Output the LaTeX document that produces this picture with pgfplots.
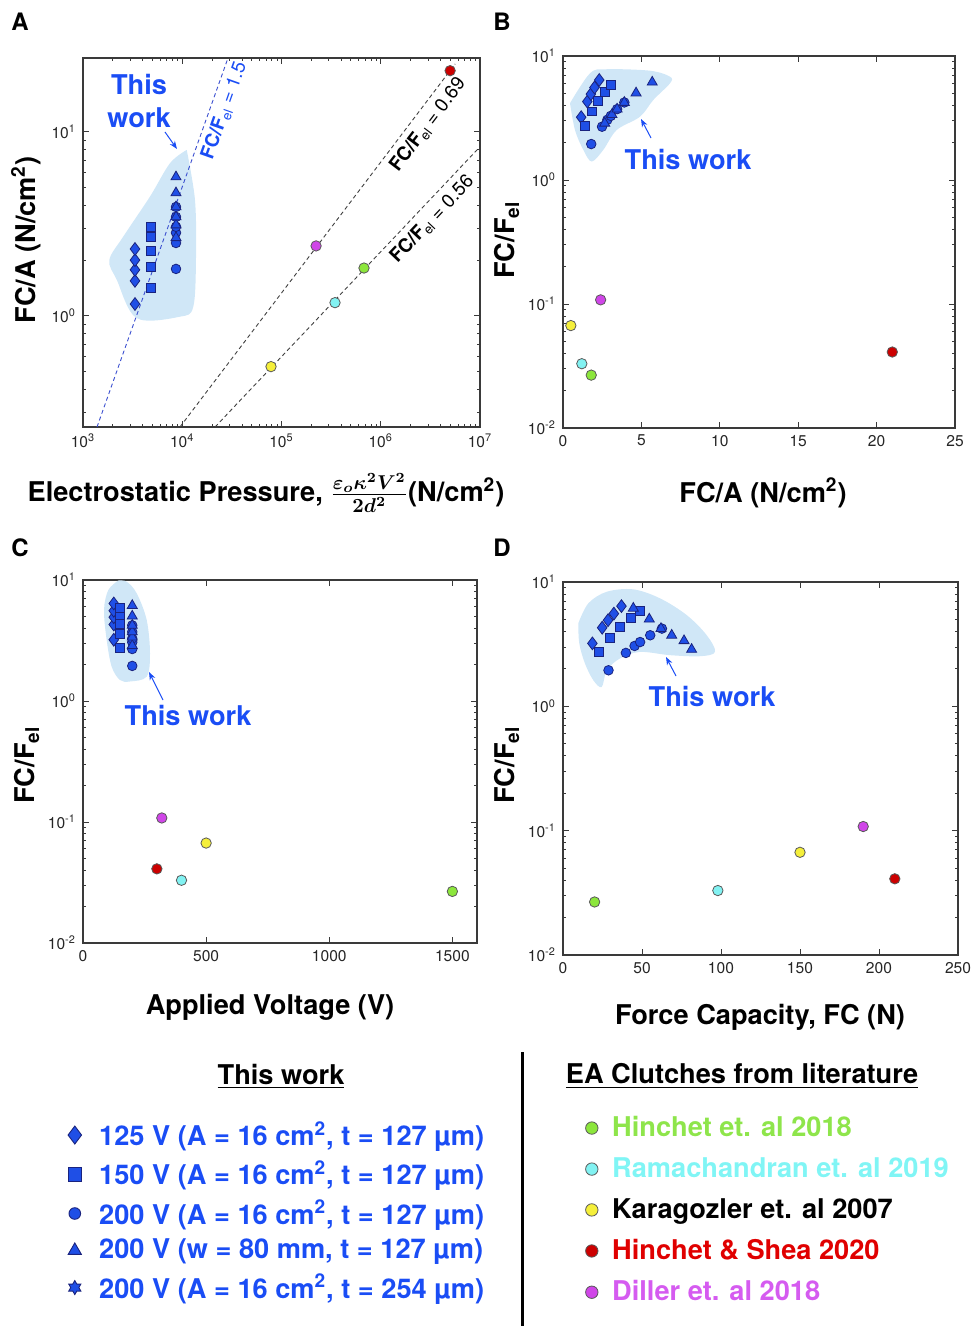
\documentclass[border=0pt]{standalone}
\usepackage{fontspec}
\setmainfont{TeX Gyre Heros}
\usepackage{pgfplots}
\pgfplotsset{compat=1.18}
\usetikzlibrary{arrows.meta}
\definecolor{twfill}{HTML}{1F4FE6}
\definecolor{twedge}{HTML}{1A237E}
\definecolor{twtext}{HTML}{1A4DF5}
\definecolor{blob}{HTML}{D0E7F7}
\definecolor{axgray}{HTML}{3A3A3A}
\definecolor{bline}{HTML}{3B4FD0}
\definecolor{litgreen}{HTML}{8CE63C}
\definecolor{litcyan}{HTML}{82F2F2}
\definecolor{lityellow}{HTML}{F5EF3A}
\definecolor{litred}{HTML}{CC0000}
\definecolor{litmag}{HTML}{D046E8}
\definecolor{txgreen}{HTML}{8EE54B}
\definecolor{txcyan}{HTML}{80F5F5}
\definecolor{txred}{HTML}{E00000}
\definecolor{txmag}{HTML}{D55BF0}

% filled six-pointed star
\pgfdeclareplotmark{hexagram*}{%
  \pgfpathmoveto{\pgfpointpolar{90}{\pgfplotmarksize}}%
  \pgfpathlineto{\pgfpointpolar{120}{0.577\pgfplotmarksize}}%
  \pgfpathlineto{\pgfpointpolar{150}{\pgfplotmarksize}}%
  \pgfpathlineto{\pgfpointpolar{180}{0.577\pgfplotmarksize}}%
  \pgfpathlineto{\pgfpointpolar{210}{\pgfplotmarksize}}%
  \pgfpathlineto{\pgfpointpolar{240}{0.577\pgfplotmarksize}}%
  \pgfpathlineto{\pgfpointpolar{270}{\pgfplotmarksize}}%
  \pgfpathlineto{\pgfpointpolar{300}{0.577\pgfplotmarksize}}%
  \pgfpathlineto{\pgfpointpolar{330}{\pgfplotmarksize}}%
  \pgfpathlineto{\pgfpointpolar{0}{0.577\pgfplotmarksize}}%
  \pgfpathlineto{\pgfpointpolar{30}{\pgfplotmarksize}}%
  \pgfpathlineto{\pgfpointpolar{60}{0.577\pgfplotmarksize}}%
  \pgfpathclose
  \pgfusepathqfillstroke}

\newcommand{\lbl}{\fontsize{13.6}{16.5}\selectfont\bfseries}
\newcommand{\linefont}{\fontsize{9.5}{11}\selectfont}
\newcommand{\expx}{10\textsuperscript{\pgfmathparse{int(round(\tick))}\pgfmathresult}}

\pgfplotsset{
  panel/.style={anchor=north west, scale only axis,
    axis line style={draw=axgray, line width=0.7pt},
    tick style={draw=axgray, line width=0.45pt},
    major tick length=2.8pt, minor tick length=1.6pt, tick align=inside,
    ticklabel style={font=\fontsize{7.8}{9}\selectfont, text=black!85},
    /pgf/number format/assume math mode=true,
    /pgf/number format/set thousands separator={}},
  lit/.style={only marks, mark=*, mark size=2.6pt,
    mark options={draw=black!65, line width=0.4pt, fill=#1}},
  tw/.style 2 args={only marks, mark=#1, mark size=#2,
    mark options={draw=twedge, fill=twfill, line width=0.4pt}},
  blobfill/.style={draw=none, fill=blob, smooth, tension=0.55},
  fline/.style={dash pattern=on 2pt off 1.5pt, line width=0.45pt},
  legbox/.style={anchor=north west, scale only axis, width=10pt, height=10pt,
    hide axis, xmin=0, xmax=1, ymin=0, ymax=1},
}

\begin{document}
\begin{tikzpicture}
\useasboundingbox (0pt,0pt) rectangle (485.5pt,-663pt);

% ---------------- A ----------------
\begin{axis}[panel, xmode=log, ymode=log, log basis x=10, log basis y=10,
  xticklabel={\expx}, yticklabel={\expx},
  at={(41.5pt,-29pt)}, width=198.5pt, height=184.5pt,
  xmin=1e3, xmax=1e7, ymin=0.249, ymax=25.2]
\addplot[blobfill] coordinates {(11090,7.98)(13430,4.27)(13760,2.09)(12910,1.12)(9480,0.99)(3475,0.972)(2190,1.57)(1842,2.01)(2548,2.70)(4730,4.45)(7530,6.76)(11090,7.98)};
\addplot[fline, draw=bline] coordinates {(1384,0.249)(28900,25.2)}
  node[pos=0.87, sloped, below, inner sep=2.5pt, text=twtext, font=\linefont] {\textbf{FC/F}\textsubscript{el} = 1.5};
\addplot[fline, draw=black!75] coordinates {(9480,0.249)(5.62e6,23.4)}
  node[pos=0.857, sloped, below, inner sep=3pt, font=\linefont] {\textbf{FC/F}\textsubscript{el} = 0.69};
\addplot[fline, draw=black!75] coordinates {(21400,0.249)(9.33e6,7.98)}
  node[pos=0.787, sloped, below, inner sep=3pt, font=\linefont] {\textbf{FC/F}\textsubscript{el} = 0.56};
\addplot[tw={diamond*}{3.2pt}] coordinates {(3340,1.16)(3340,1.55)(3340,1.78)(3340,2.01)(3340,2.31)};
\addplot[tw={square*}{2.2pt}] coordinates {(4840,1.42)(4840,1.85)(4840,2.25)(4840,2.68)(4840,3.05)};
\addplot[tw={*}{2.4pt}] coordinates {(8650,1.80)(8650,2.49)(8650,2.83)(8650,3.05)(8650,3.45)(8650,3.91)};
\addplot[tw={triangle*}{2.9pt}] coordinates {(8650,2.66)(8650,3.12)(8650,3.45)(8650,3.91)(8650,4.66)(8650,5.69)};
\addplot[lit=lityellow] coordinates {(7.84e4,0.53)};
\addplot[lit=litcyan] coordinates {(3.46e5,1.18)};
\addplot[lit=litgreen] coordinates {(6.78e5,1.82)};
\addplot[lit=litmag] coordinates {(2.23e5,2.4)};
\addplot[lit=litred] coordinates {(5.0e6,21.5)};
\end{axis}

% ---------------- B ----------------
\begin{axis}[panel, ymode=log, log basis y=10, yticklabel={\expx},
  at={(281.5pt,-28pt)}, width=196pt, height=186pt,
  xmin=0, xmax=25, xtick={0,5,10,15,20,25}, ymin=0.01, ymax=10]
\addplot[blobfill] coordinates {(0.446,4.16)(1.722,7.25)(2.787,7.82)(5.548,7.61)(6.824,6.81)(6.824,6.03)(5.759,4.42)(4.911,3.24)(3.425,2.53)(2.570,1.75)(1.830,1.41)(1.295,1.75)(0.765,2.53)(0.446,4.16)};
\addplot[tw={diamond*}{3.2pt}] coordinates {(1.16,3.21)(1.55,4.29)(1.78,4.93)(2.01,5.57)(2.31,6.40)};
\addplot[tw={square*}{2.2pt}] coordinates {(1.42,2.74)(1.85,3.57)(2.25,4.34)(2.68,5.17)(3.05,5.89)};
\addplot[tw={*}{2.4pt}] coordinates {(1.80,1.95)(2.49,2.69)(2.83,3.06)(3.05,3.29)(3.45,3.73)(3.91,4.22)};
\addplot[tw={triangle*}{2.9pt}] coordinates {(2.66,2.87)(3.12,3.37)(3.45,3.73)(3.91,4.22)(4.66,5.03)(5.69,6.15)};
\addplot[lit=lityellow] coordinates {(0.5,0.067)};
\addplot[lit=litcyan] coordinates {(1.2,0.033)};
\addplot[lit=litgreen] coordinates {(1.8,0.0267)};
\addplot[lit=litmag] coordinates {(2.4,0.108)};
\addplot[lit=litred] coordinates {(21,0.041)};
\end{axis}

% ---------------- C ----------------
\begin{axis}[panel, ymode=log, log basis y=10, yticklabel={\expx},
  at={(41.5pt,-290pt)}, width=197pt, height=181.5pt,
  xmin=0, xmax=1600, xtick={0,500,1000,1500}, ymin=0.01, ymax=10]
\addplot[blobfill] coordinates {(143.3,9.9)(102.7,8.26)(85.3,5.65)(96.2,3.19)(116.5,1.92)(150.3,1.49)(190.9,1.45)(258.7,1.59)(272.1,2.48)(258.7,4.67)(218.1,7.76)(177.5,9.68)(143.3,9.9)};
\addplot[tw={diamond*}{3.2pt}] coordinates {(125,3.21)(125,4.29)(125,4.93)(125,5.57)(125,6.40)};
\addplot[tw={square*}{2.2pt}] coordinates {(150,2.74)(150,3.57)(150,4.34)(150,5.17)(150,5.89)};
\addplot[tw={*}{2.4pt}] coordinates {(200,1.95)(200,2.69)(200,3.06)(200,3.29)(200,3.73)(200,4.22)};
\addplot[tw={triangle*}{2.9pt}] coordinates {(200,2.87)(200,3.37)(200,3.73)(200,4.22)(200,5.03)(200,6.15)};
\addplot[lit=litmag] coordinates {(320,0.108)};
\addplot[lit=litred] coordinates {(300,0.041)};
\addplot[lit=litcyan] coordinates {(400,0.033)};
\addplot[lit=lityellow] coordinates {(500,0.067)};
\addplot[lit=litgreen] coordinates {(1500,0.0267)};
\end{axis}

% ---------------- D ----------------
\begin{axis}[panel, ymode=log, log basis y=10, yticklabel={\expx},
  at={(281.5pt,-291pt)}, width=197.5pt, height=186.5pt,
  xmin=0, xmax=250, xtick={0,50,100,150,200,250}, ymin=0.01, ymax=10]
\addplot[blobfill] coordinates {(9.68,4.65)(16.0,6.73)(27.7,8.35)(44.5,8.73)(61.4,7.39)(78.3,5.42)(90.9,3.74)(96.2,2.74)(86.7,2.53)(67.7,2.58)(48.7,2.74)(36.1,2.43)(27.7,1.95)(24.5,1.43)(19.2,1.62)(13.9,2.21)(10.3,3.21)(9.68,4.65)};
\addplot[tw={diamond*}{3.2pt}] coordinates {(18.6,3.21)(24.8,4.29)(28.5,4.93)(32.2,5.57)(37.0,6.40)};
\addplot[tw={square*}{2.2pt}] coordinates {(22.7,2.74)(29.6,3.57)(36.0,4.34)(42.9,5.17)(48.8,5.89)};
\addplot[tw={*}{2.4pt}] coordinates {(28.8,1.95)(39.8,2.69)(45.3,3.06)(48.8,3.29)(55.2,3.73)(62.6,4.22)};
\addplot[tw={triangle*}{2.9pt}] coordinates {(44.5,6.15)(54.6,5.03)(62,4.22)(68.8,3.73)(76.6,3.37)(81.4,2.87)};
\addplot[lit=litgreen] coordinates {(20,0.0267)};
\addplot[lit=litcyan] coordinates {(98,0.033)};
\addplot[lit=lityellow] coordinates {(150,0.067)};
\addplot[lit=litmag] coordinates {(190,0.108)};
\addplot[lit=litred] coordinates {(210,0.041)};
\end{axis}

% ---------------- legends ----------------
\begin{axis}[legbox, at={(32pt,-559.5pt)},
  legend style={at={(0,1)}, anchor=north west, draw=none, fill=none, inner sep=0pt,
    row sep=4pt, font=\lbl, nodes={inner sep=1pt}},
  legend cell align=left,
  legend image code/.code={\path (0pt,0pt) (16pt,0pt); \draw[#1] plot coordinates {(5pt,0pt)};}]
\addlegendimage{only marks, mark=diamond*, mark size=4.5pt, mark options={draw=twedge, fill=twfill, line width=0.45pt}}
\addlegendentry{\textcolor{twtext}{125 V (A = 16 cm\textsuperscript{2}, t = 127 µm)}}
\addlegendimage{only marks, mark=square*, mark size=3.4pt, mark options={draw=twedge, fill=twfill, line width=0.45pt}}
\addlegendentry{\textcolor{twtext}{150 V (A = 16 cm\textsuperscript{2}, t = 127 µm)}}
\addlegendimage{only marks, mark=*, mark size=2.9pt, mark options={draw=twedge, fill=twfill, line width=0.45pt}}
\addlegendentry{\textcolor{twtext}{200 V (A = 16 cm\textsuperscript{2}, t = 127 µm)}}
\addlegendimage{only marks, mark=triangle*, mark size=3.8pt, mark options={draw=twedge, fill=twfill, line width=0.45pt}}
\addlegendentry{\textcolor{twtext}{200 V (w = 80 mm, t = 127 µm)}}
\addlegendimage{only marks, mark=hexagram*, mark size=3.5pt, mark options={draw=twedge, fill=twfill, line width=0.45pt}}
\addlegendentry{\textcolor{twtext}{200 V (A = 16 cm\textsuperscript{2}, t = 254 µm)}}
\end{axis}

\begin{axis}[legbox, at={(290.5pt,-557pt)},
  legend style={at={(0,1)}, anchor=north west, draw=none, fill=none, inner sep=0pt,
    row sep=7pt, font=\lbl, nodes={inner sep=1pt}},
  legend cell align=left,
  legend image code/.code={\path (0pt,0pt) (14pt,0pt); \draw[#1] plot coordinates {(5pt,0pt)};}]
\addlegendimage{lit=litgreen, mark size=3.1pt}
\addlegendentry{\textcolor{txgreen}{Hinchet et. al 2018}}
\addlegendimage{lit=litcyan, mark size=3.1pt}
\addlegendentry{\textcolor{txcyan}{Ramachandran et. al 2019}}
\addlegendimage{lit=lityellow, mark size=3.1pt}
\addlegendentry{Karagozler et. al 2007}
\addlegendimage{lit=litred, mark size=3.1pt}
\addlegendentry{\textcolor{txred}{Hinchet \& Shea 2020}}
\addlegendimage{lit=litmag, mark size=3.1pt}
\addlegendentry{\textcolor{txmag}{Diller et. al 2018}}
\end{axis}

% ---------------- annotations (pixel grid) ----------------
\begin{scope}[x=0.5pt, y=-0.5pt]
\node[font=\fontsize{12}{14}\selectfont\bfseries] at (20,22) {A};
\node[font=\fontsize{12}{14}\selectfont\bfseries] at (502,22) {B};
\node[font=\fontsize{12}{14}\selectfont\bfseries] at (20,548) {C};
\node[font=\fontsize{12}{14}\selectfont\bfseries] at (502,548) {D};

\node[font=\lbl] at (266,493) {Electrostatic Pressure, {\boldmath$\frac{\varepsilon_o\kappa^2V^2}{2d^2}$}(N/cm\textsuperscript{2})};
\node[font=\lbl, rotate=90] at (26,240) {FC/A (N/cm\textsuperscript{2})};
\node[font=\lbl] at (763,493) {FC/A (N/cm\textsuperscript{2})};
\node[font=\lbl, rotate=90] at (507,240) {FC/F\textsubscript{el}};
\node[font=\lbl] at (270,1007) {Applied Voltage (V)};
\node[font=\lbl, rotate=90] at (27,765) {FC/F\textsubscript{el}};
\node[font=\lbl] at (760,1017) {Force Capacity, FC (N)};
\node[font=\lbl, rotate=90] at (507,765) {FC/F\textsubscript{el}};

\node[font=\lbl, text=twtext, align=center] at (139,101) {This\\work};
\draw[twtext, line width=0.5pt, -{Stealth[length=4pt,width=3pt]}] (165,132) -- (177,149);
\node[font=\lbl, text=twtext] at (688,159) {This work};
\draw[twtext, line width=0.5pt, -{Stealth[length=4pt,width=3pt]}] (651,138) -- (641,119);
\node[font=\lbl, text=twtext] at (188,715) {This work};
\draw[twtext, line width=0.5pt, -{Stealth[length=4pt,width=3pt]}] (163,700) -- (149,672);
\node[font=\lbl, text=twtext] at (712,696) {This work};
\draw[twtext, line width=0.5pt, -{Stealth[length=4pt,width=3pt]}] (676,676) -- (666,657);

\node[font=\lbl] at (281,1076) {\underline{This work}};
\node[font=\lbl] at (742,1076) {\underline{EA Clutches from literature}};
\draw[line width=1.5pt] (522,1052) -- (522,1326);
\end{scope}
\end{tikzpicture}
\end{document}
